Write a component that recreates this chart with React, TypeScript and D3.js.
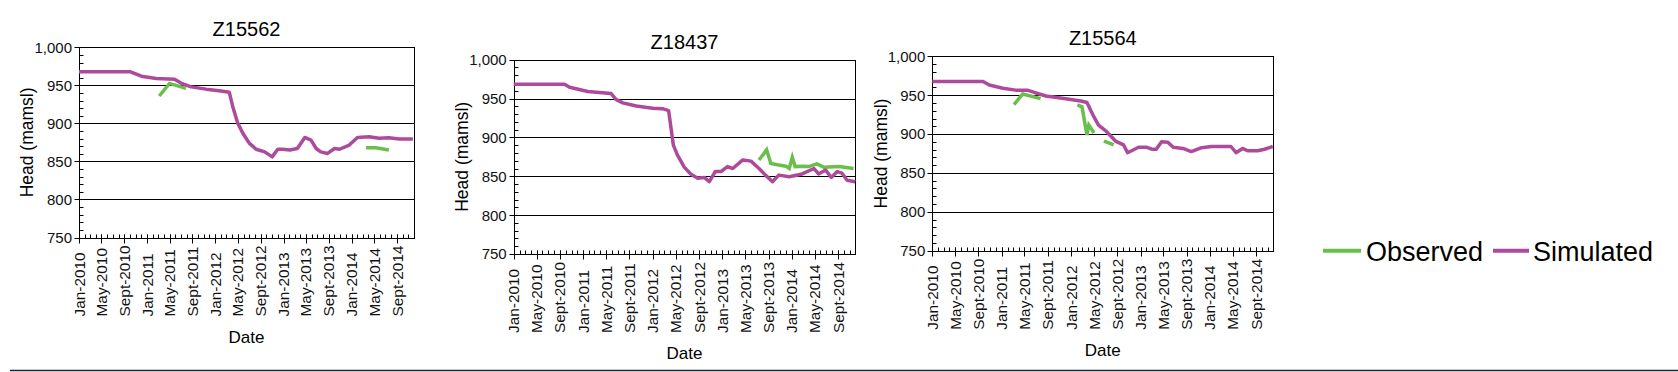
import React, {useEffect, useRef} from "react";
import * as d3 from "d3";

const ColorObserved: string = "#6abf4b";
const ColorSimulated: string = "#ae4a9c";
const FontFamily: string = "'Liberation Sans', Arial, sans-serif";

const MonthNames = ["Jan", "Feb", "Mar", "Apr", "May", "Jun", "Jul", "Aug", "Sept", "Oct", "Nov", "Dec"];
const yTicks = [750, 800, 850, 900, 950, 1000];
const axisStart = "2010-01-01";
const axisEnd = "2014-12-01";
const legendLabels = ["Observed", "Simulated"];

// Z15562
const z15562SimDates = ["2010-01-01", "2010-10-01", "2010-12-01", "2011-02-19", "2011-05-28", "2011-07-01", "2011-08-25",
  "2011-11-13", "2012-02-01", "2012-03-16", "2012-04-04", "2012-05-01", "2012-05-28", "2012-07-01", "2012-08-07",
  "2012-09-22", "2012-11-01", "2012-12-01", "2012-12-28", "2013-02-04", "2013-03-16", "2013-04-25", "2013-05-28",
  "2013-06-25", "2013-07-19", "2013-08-25", "2013-10-01", "2013-10-28", "2013-12-19", "2014-02-01", "2014-04-04",
  "2014-05-28", "2014-07-19", "2014-09-13", "2014-11-25"];
const z15562SimValues = [968, 968, 962, 959, 958, 953, 948, 945, 942.5, 941, 922, 900, 887, 874, 866, 862.5, 856, 866,
  866, 865, 867, 881.5, 878, 867, 862.5, 860.5, 867, 866, 871.5, 881.5, 882.5, 880.5, 881, 879.5, 879.5];
const z15562ObsDates = ["2011-03-07", "2011-05-01", "2011-07-28", "2011-08-01", "2014-03-19", "2014-05-10", "2014-07-19"];
const z15562ObsValues = [936, 952.5, 946, null, 868, 868, 865];

// Z18437
const z18437SimDates = ["2010-01-01", "2010-09-25", "2010-10-22", "2011-01-25", "2011-05-28", "2011-06-22", "2011-07-28",
  "2011-10-07", "2012-01-01", "2012-02-22", "2012-03-25", "2012-04-19", "2012-05-10", "2012-06-16", "2012-07-19",
  "2012-08-25", "2012-09-28", "2012-10-25", "2012-11-25", "2012-12-25", "2013-01-28", "2013-02-25", "2013-04-19",
  "2013-06-01", "2013-07-13", "2013-08-16", "2013-09-22", "2013-10-25", "2013-12-19", "2014-02-25", "2014-04-28",
  "2014-05-22", "2014-06-28", "2014-07-28", "2014-08-28", "2014-09-22", "2014-10-19", "2014-12-01"];
const z18437SimValues = [968.5, 968.5, 964.5, 959, 956.5, 949, 944.5, 940.5, 937.5, 937, 934.5, 890, 877.5, 861.5, 853,
  847.5, 848.5, 843, 856, 856, 862.5, 860, 871, 869.5, 860, 851.5, 843, 851.5, 849.5, 853, 860, 853, 858, 848.5, 856,
  854, 845, 843];
const z18437ObsDates = ["2013-07-13", "2013-08-22", "2013-09-13", "2013-10-25", "2013-12-01", "2013-12-19", "2014-01-04",
  "2014-01-19", "2014-02-25", "2014-04-01", "2014-05-13", "2014-06-19", "2014-09-07", "2014-11-22"];
const z18437ObsValues = [871, 884, 866.5, 864.5, 863, 860, 874.5, 862.5, 863, 862.5, 866, 861.5, 862.5, 860];

// Z15564
const z15564SimDates = ["2010-01-01", "2010-09-25", "2010-10-28", "2011-01-07", "2011-03-16", "2011-05-16", "2011-06-22",
  "2011-08-22", "2011-11-16", "2012-02-22", "2012-03-25", "2012-05-01", "2012-05-25", "2012-07-07", "2012-08-22",
  "2012-10-04", "2012-10-25", "2012-12-22", "2013-02-04", "2013-03-01", "2013-03-25", "2013-04-22", "2013-05-25",
  "2013-06-22", "2013-08-13", "2013-09-25", "2013-11-19", "2014-01-10", "2014-04-22", "2014-05-19", "2014-06-22",
  "2014-07-19", "2014-09-10", "2014-10-16", "2014-11-28"];
const z15564SimValues = [967.5, 967.5, 963, 959, 956.5, 956.5, 953.5, 949, 946, 942.5, 940.5, 922, 911.5, 903, 891, 886,
  876, 883, 883, 880.5, 880.5, 890, 889.5, 883, 881.5, 877.5, 882.5, 884, 884, 876, 881.5, 878.5, 878.5, 880.5, 884];
const z15564ObsDates = ["2011-03-07", "2011-04-22", "2011-07-25", "2011-08-01", "2012-02-04", "2012-02-28", "2012-03-25",
  "2012-04-04", "2012-05-01", "2012-05-10", "2012-06-22", "2012-07-25", "2012-08-13"];
const z15564ObsValues = [938, 951.5, 945.5, null, 937.5, 935, 899, 911.5, 901.5, null, 891, 888, 886];

interface IBox {
  left: number;
  right: number;
  top: number;
  bottom: number;
}

interface IProps {
  title: string;
  box: IBox;
  simDates: string[];
  simValues: number[];
  obsDates: string[];
  obsValues: (number | null)[];
}

const parseDate = d3.timeParse("%Y-%m-%d");

function Panel(props: IProps): React.ReactElement {
  const gRef = useRef<SVGGElement>(null);

  useEffect(() => {
    if (gRef.current === null) return;
    const g = d3.select(gRef.current);
    g.selectAll("*").remove();
    const box = props.box;

    const x = d3.scaleTime()
      .domain([parseDate(axisStart) as Date, parseDate(axisEnd) as Date])
      .range([box.left, box.right]);
    const y = d3.scaleLinear().domain([750, 1000]).range([box.bottom, box.top]);

    // gridlines
    g.selectAll(".grid")
      .data(yTicks.filter(t => t > 750 && t < 1000))
      .join("line")
      .attr("class", "grid")
      .attr("x1", box.left).attr("x2", box.right)
      .attr("y1", d => Math.round(y(d)) + 0.5).attr("y2", d => Math.round(y(d)) + 0.5)
      .attr("stroke", "#000").attr("stroke-width", 1);

    // frame
    g.append("rect")
      .attr("x", Math.round(box.left) + 0.5).attr("y", Math.round(box.top) + 0.5)
      .attr("width", Math.round(box.right) - Math.round(box.left))
      .attr("height", Math.round(box.bottom) - Math.round(box.top))
      .attr("fill", "none").attr("stroke", "#000").attr("stroke-width", 1);

    const axisX = Math.round(box.left) + 0.5;
    const axisY = Math.round(box.bottom) + 0.5;

    // y minor ticks
    const yMinor = d3.range(760, 1000, 10).filter(v => v % 50 !== 0);
    g.selectAll(".yMinor")
      .data(yMinor)
      .join("line")
      .attr("class", "yMinor")
      .attr("x1", axisX).attr("x2", axisX + 4)
      .attr("y1", d => Math.round(y(d)) + 0.5).attr("y2", d => Math.round(y(d)) + 0.5)
      .attr("stroke", "#000");

    g.selectAll(".yMajor")
      .data(yTicks)
      .join("line")
      .attr("class", "yMajor")
      .attr("x1", axisX - 5).attr("x2", axisX)
      .attr("y1", d => Math.round(y(d)) + 0.5).attr("y2", d => Math.round(y(d)) + 0.5)
      .attr("stroke", "#000");

    g.selectAll(".yLabel")
      .data(yTicks)
      .join("text")
      .attr("class", "yLabel")
      .attr("x", box.left - 7)
      .attr("y", d => y(d))
      .attr("dy", "0.36em")
      .attr("text-anchor", "end")
      .attr("font-size", 15)
      .attr("fill", "#111")
      .text(d => d3.format(",")(d));

    // x ticks
    const start = parseDate(axisStart) as Date;
    const end = parseDate(axisEnd) as Date;
    const months = d3.timeMonth.range(start, d3.timeDay.offset(end, 1));
    const majors = months.filter(m => m.getMonth() % 4 === 0);

    g.selectAll(".xMinor")
      .data(months)
      .join("line")
      .attr("class", "xMinor")
      .attr("x1", d => Math.round(x(d)) + 0.5).attr("x2", d => Math.round(x(d)) + 0.5)
      .attr("y1", axisY - 4).attr("y2", axisY)
      .attr("stroke", "#000");

    g.selectAll(".xMajor")
      .data(majors)
      .join("line")
      .attr("class", "xMajor")
      .attr("x1", d => Math.round(x(d)) + 0.5).attr("x2", d => Math.round(x(d)) + 0.5)
      .attr("y1", axisY - 4).attr("y2", axisY + 5)
      .attr("stroke", "#000");

    g.selectAll(".xLabel")
      .data(majors)
      .join("text")
      .attr("class", "xLabel")
      .attr("transform", d => `translate(${x(d)},${box.bottom + 79}) rotate(-90)`)
      .attr("dy", "0.36em")
      .attr("text-anchor", "start")
      .attr("font-size", 15.4)
      .attr("fill", "#111")
      .text(d => `${MonthNames[d.getMonth()]}-${d.getFullYear()}`);

    // series
    const simData = props.simDates.map((d, i) => ({date: parseDate(d) as Date, value: props.simValues[i]}));
    const obsData = props.obsDates.map((d, i) => ({date: parseDate(d) as Date, value: props.obsValues[i]}));

    const line = d3.line<{date: Date, value: number | null}>()
      .defined(d => d.value !== null)
      .x(d => x(d.date))
      .y(d => y(d.value as number));

    g.append("path")
      .datum(obsData)
      .attr("d", line)
      .attr("fill", "none")
      .attr("stroke", ColorObserved)
      .attr("stroke-width", 3.5);

    g.append("path")
      .datum(simData)
      .attr("d", line)
      .attr("fill", "none")
      .attr("stroke", ColorSimulated)
      .attr("stroke-width", 3.5)
      .attr("stroke-linejoin", "round");

    // titles
    g.append("text")
      .attr("x", (box.left + box.right) / 2)
      .attr("y", box.top - 11)
      .attr("text-anchor", "middle")
      .attr("font-size", 20)
      .attr("fill", "#000")
      .text(props.title);

    g.append("text")
      .attr("x", (box.left + box.right) / 2)
      .attr("y", box.bottom + 105)
      .attr("text-anchor", "middle")
      .attr("font-size", 17)
      .attr("fill", "#000")
      .text("Date");

    g.append("text")
      .attr("transform", `translate(${box.left - 52},${(box.top + box.bottom) / 2}) rotate(-90)`)
      .attr("dy", "0.36em")
      .attr("text-anchor", "middle")
      .attr("font-size", 17.5)
      .attr("fill", "#000")
      .text("Head (mamsl)");
  }, [props]);

  return <g ref={gRef}></g>;
}

export default function App(): React.ReactElement {
  return (
    <div style={{position: "fixed", left: 0, top: 0}}>
      <svg width={1678} height={372} style={{display: "block", background: "#fff"}} fontFamily={FontFamily}>
        <Panel title="Z15562" box={{left: 79, right: 414, top: 47.3, bottom: 237.5}}
               simDates={z15562SimDates} simValues={z15562SimValues}
               obsDates={z15562ObsDates} obsValues={z15562ObsValues}/>
        <Panel title="Z18437" box={{left: 513.7, right: 855.3, top: 59.7, bottom: 254}}
               simDates={z18437SimDates} simValues={z18437SimValues}
               obsDates={z18437ObsDates} obsValues={z18437ObsValues}/>
        <Panel title="Z15564" box={{left: 932.3, right: 1273.3, top: 56.3, bottom: 250.7}}
               simDates={z15564SimDates} simValues={z15564SimValues}
               obsDates={z15564ObsDates} obsValues={z15564ObsValues}/>
        <g>
          <line x1={1323} x2={1361} y1={250.7} y2={250.7} stroke={ColorObserved} strokeWidth={4}/>
          <text x={1366} y={260.5} fontSize={27} fill="#000">{legendLabels[0]}</text>
          <line x1={1493} x2={1529} y1={250.7} y2={250.7} stroke={ColorSimulated} strokeWidth={4}/>
          <text x={1533} y={260.5} fontSize={27} fill="#000">{legendLabels[1]}</text>
        </g>
        <line x1={10} x2={1678} y1={370.5} y2={370.5} stroke="#1f2233" strokeWidth={1.5}/>
      </svg>
    </div>
  );
}
